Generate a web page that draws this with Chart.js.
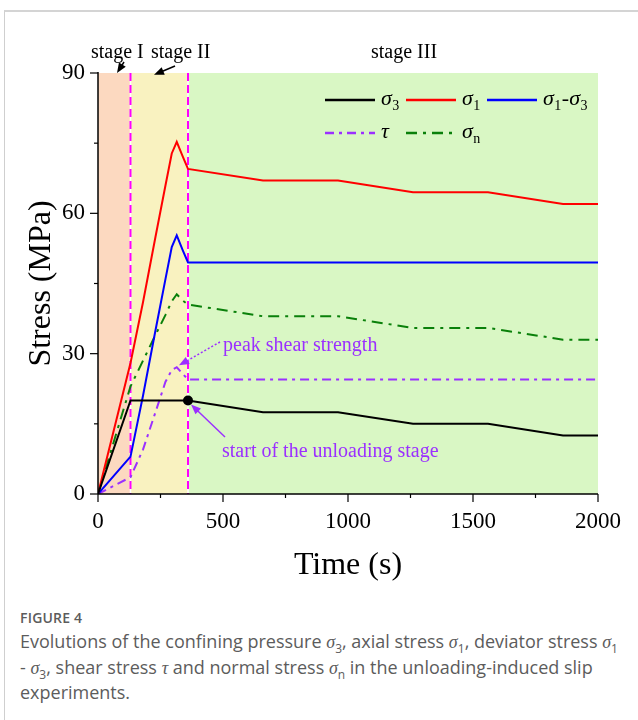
<!DOCTYPE html>
<html lang="en">
<head>
<meta charset="UTF-8">
<title>Figure 4</title>
<script src="https://cdn.jsdelivr.net/npm/chart.js"></script>
<style>
    body {
        margin: 0;
        width: 638px;
        height: 720px;
        overflow: hidden;
        position: relative;
        background: #fff;
        font-family: 'Open Sans', sans-serif;
    }
    .frame {
        position: absolute;
        left: 4px;
        top: 10px;
        width: 700px;
        height: 800px;
        border-left: 1px solid #cfcfcf;
        border-top: 2px solid #d4d4d4;
    }
    #chartBox {
        position: absolute;
        left: 0;
        top: 0;
    }
    .caption {
        position: absolute;
        left: 20px;
        top: 608px;
        color: #5c5c5c;
    }
    .fig {
        font-size: 14px;
        font-weight: 600;
        letter-spacing: 0.2px;
        margin-bottom: 2px;
    }
    .text {
        font-size: 18px;
        line-height: 24.5px;
        white-space: nowrap;
    }
    .text i {
        font-family: 'Liberation Serif', serif;
        font-size: 18px;
    }
    .text sub {
        font-size: 12px;
        line-height: 0;
    }
</style>
</head>
<body>
<div class="frame"></div>
<canvas id="chartBox" width="638" height="600"></canvas>
<div class="caption">
    <div class="fig">FIGURE 4</div>
    <div class="text">Evolutions of the confining pressure <i>σ</i><sub>3</sub>, axial stress <i>σ</i><sub>1</sub>, deviator stress <i>σ</i><sub>1</sub><br>- <i>σ</i><sub>3</sub>, shear stress <i>τ</i> and normal stress <i>σ</i><sub>n</sub> in the unloading-induced slip<br>experiments.</div>
</div>
<script>
// time axis (s) shared by all series
const times   = [0, 130, 180, 230, 270, 295, 315, 340, 360, 660, 960, 1260, 1560, 1860, 2000];
const sigma3  = [0, 20, 20, 20, 20, 20, 20, 20, 20, 17.5, 17.5, 15, 15, 12.5, 12.5];
const sigma1  = [0, 28, 41, 55, 66, 72.8, 75.3, 72, 69.5, 67, 67, 64.5, 64.5, 62, 62];
const deviator = [0, 8, 21, 35, 46, 52.8, 55.3, 52, 49.5, 49.5, 49.5, 49.5, 49.5, 49.5, 49.5];
const tau     = [0, 3.6, 9.5, 17.5, 24, 26.5, 27.1, 25.6, 24.5, 24.5, 24.5, 24.5, 24.5, 24.5, 24.5];
const sigmaN  = [0, 23, 28.5, 34, 38.3, 41.2, 42.7, 41.3, 40.5, 38, 38, 35.5, 35.5, 33, 33];

const stageEdges  = [0, 130, 360, 2000];
const stageColors = ['#fcd9c0', '#f9f2c0', '#d9f7c4'];
const xTicks = [0, 500, 1000, 1500, 2000];
const yTicks = [0, 30, 60, 90];
const unloadStart = 360;

const SERIF = "'Liberation Serif', 'Times New Roman', serif";
const PURPLE = '#9b30ff';

function pts(vals) {
    return times.map((t, i) => ({ x: t, y: vals[i] }));
}

const markIdx = times.indexOf(unloadStart);

const datasets = [
    { label: 'σ3', data: pts(sigma3), borderColor: '#000', borderWidth: 2,
      pointRadius: c => c.dataIndex === markIdx ? 5 : 0, pointBackgroundColor: '#000', pointBorderWidth: 0 },
    { label: 'σ1', data: pts(sigma1), borderColor: '#ff0000', borderWidth: 2, pointRadius: 0 },
    { label: 'σ1-σ3', data: pts(deviator), borderColor: '#0000ff', borderWidth: 2, pointRadius: 0 },
    { label: 'τ', data: pts(tau), borderColor: PURPLE, borderWidth: 2, borderDash: [9, 5, 3, 5], pointRadius: 0 },
    { label: 'σn', data: pts(sigmaN), borderColor: '#0a800a', borderWidth: 2, borderDash: [11, 6, 3, 6], pointRadius: 0 }
];

// legend text pieces: [main, subscript, italic]
const legendParts = [
    [['σ', '3', true]],
    [['σ', '1', true]],
    [['σ', '1', true], ['-', '', false], ['σ', '3', true]],
    [['τ', '', true]],
    [['σ', 'n', true]]
];
const legendSlots = [[0, 0], [1, 0], [2, 0], [0, 1], [1, 1]];

function line(ctx, x1, y1, x2, y2) {
    ctx.beginPath();
    ctx.moveTo(x1, y1);
    ctx.lineTo(x2, y2);
    ctx.stroke();
}

function arrow(ctx, x1, y1, x2, y2, color, dash) {
    const ang = Math.atan2(y2 - y1, x2 - x1);
    const hl = 10, hw = 4;
    ctx.save();
    ctx.strokeStyle = color;
    ctx.fillStyle = color;
    ctx.lineWidth = 1.5;
    ctx.setLineDash(dash || []);
    line(ctx, x1, y1, x2 - Math.cos(ang) * hl * 0.8, y2 - Math.sin(ang) * hl * 0.8);
    ctx.setLineDash([]);
    ctx.beginPath();
    ctx.moveTo(x2, y2);
    ctx.lineTo(x2 - Math.cos(ang) * hl - Math.sin(ang) * hw, y2 - Math.sin(ang) * hl + Math.cos(ang) * hw);
    ctx.lineTo(x2 - Math.cos(ang) * hl + Math.sin(ang) * hw, y2 - Math.sin(ang) * hl - Math.cos(ang) * hw);
    ctx.closePath();
    ctx.fill();
    ctx.restore();
}

function drawParts(ctx, parts, x, y) {
    ctx.textBaseline = 'alphabetic';
    ctx.textAlign = 'left';
    for (const [main, sub, ital] of parts) {
        ctx.font = (ital ? 'italic ' : '') + '22px ' + SERIF;
        ctx.fillText(main, x, y);
        x += ctx.measureText(main).width;
        if (sub) {
            ctx.font = '14px ' + SERIF;
            ctx.fillText(sub, x + 0.5, y + 5);
            x += ctx.measureText(sub).width + 1;
        }
    }
}

const decor = {
    id: 'decor',
    beforeDatasetsDraw(chart) {
        const { ctx, chartArea: a, scales: { x } } = chart;
        ctx.save();
        for (let i = 0; i < stageColors.length; i++) {
            const x0 = x.getPixelForValue(stageEdges[i]);
            const x1 = x.getPixelForValue(stageEdges[i + 1]);
            ctx.fillStyle = stageColors[i];
            ctx.fillRect(x0, a.top, x1 - x0, a.bottom - a.top);
        }
        stageEdges.slice(1, -1).forEach(t => {
            const px = x.getPixelForValue(t);
            ctx.strokeStyle = '#fff';
            ctx.lineWidth = 1.5;
            ctx.setLineDash([]);
            line(ctx, px, a.top, px, a.bottom);
            ctx.strokeStyle = '#ff00ff';
            ctx.lineWidth = 2;
            ctx.setLineDash([8, 4]);
            line(ctx, px, a.top, px, a.bottom);
        });
        ctx.restore();
    },
    afterDraw(chart) {
        const { ctx, chartArea: a, scales: { x, y } } = chart;
        ctx.save();
        // axes + ticks
        ctx.strokeStyle = '#000';
        ctx.lineWidth = 1.5;
        line(ctx, a.left, a.top - 1, a.left, a.bottom);
        line(ctx, a.left, a.bottom, a.right, a.bottom);
        ctx.lineWidth = 1.2;
        xTicks.forEach((v, i) => {
            const px = x.getPixelForValue(v);
            line(ctx, px, a.bottom, px, a.bottom + 8);
            if (i < xTicks.length - 1) {
                const mx = x.getPixelForValue((v + xTicks[i + 1]) / 2);
                line(ctx, mx, a.bottom, mx, a.bottom + 4);
            }
        });
        yTicks.forEach((v, i) => {
            const py = y.getPixelForValue(v);
            line(ctx, a.left - 8, py, a.left, py);
            if (i < yTicks.length - 1) {
                const my = y.getPixelForValue((v + yTicks[i + 1]) / 2);
                line(ctx, a.left - 4, my, a.left, my);
            }
        });

        // legend
        ctx.lineCap = 'butt';
        legendSlots.forEach(([col, row], i) => {
            const ds = chart.data.datasets[i];
            const lx = a.left + 227 + col * 81;
            const ly = a.top + 27 + row * 33;
            ctx.strokeStyle = ds.borderColor;
            ctx.lineWidth = 2.5;
            ctx.setLineDash(ds.borderDash || []);
            line(ctx, lx, ly, lx + 50, ly);
            ctx.setLineDash([]);
            ctx.fillStyle = '#000';
            drawParts(ctx, legendParts[i], lx + 56, ly + 5);
        });

        // stage labels
        ctx.fillStyle = '#000';
        ctx.font = '20px ' + SERIF;
        ctx.textAlign = 'left';
        ctx.textBaseline = 'alphabetic';
        ctx.fillText('stage I', 91, 58);
        ctx.fillText('stage II', 151, 58);
        ctx.fillText('stage III', 371, 58);
        arrow(ctx, 124, 62, x.getPixelForValue(76), y.getPixelForValue(90), '#000');
        arrow(ctx, 175, 66, x.getPixelForValue(224), y.getPixelForValue(89.6), '#000');

        // annotations
        ctx.fillStyle = PURPLE;
        ctx.fillText('peak shear strength', 223, 351);
        ctx.fillText('start of the unloading stage', 222, 457);
        arrow(ctx, 220, 342, x.getPixelForValue(324), y.getPixelForValue(27.5), PURPLE, [2, 2]);
        arrow(ctx, 225, 437, x.getPixelForValue(unloadStart) + 3, y.getPixelForValue(sigma3[markIdx]) + 4, PURPLE);
        ctx.restore();
    }
};

new Chart(document.getElementById('chartBox'), {
    type: 'line',
    data: { datasets: datasets },
    options: {
        responsive: false,
        animation: false,
        layout: { padding: { left: 22, right: 40, top: 73, bottom: 15 } },
        plugins: { legend: { display: false }, tooltip: { enabled: false } },
        scales: {
            x: {
                type: 'linear',
                min: 0,
                max: 2000,
                afterBuildTicks: s => { s.ticks = xTicks.map(v => ({ value: v })); },
                afterFit: s => { s.height = 91; },
                grid: { display: false, drawTicks: false },
                border: { display: false },
                ticks: { padding: 14, color: '#000', maxRotation: 0, autoSkip: false,
                         font: { family: SERIF, size: 23 }, callback: v => String(v) },
                title: { display: true, text: 'Time (s)', color: '#000', padding: 0,
                         font: { family: SERIF, size: 32 } }
            },
            y: {
                min: 0,
                max: 90,
                afterBuildTicks: s => { s.ticks = yTicks.map(v => ({ value: v })); },
                afterFit: s => { s.width = 76; },
                grid: { display: false, drawTicks: false },
                border: { display: false },
                ticks: { padding: 13, color: '#000', font: { family: SERIF, size: 23 },
                         callback: v => String(v) },
                title: { display: true, text: 'Stress (MPa)', color: '#000', padding: 0,
                         font: { family: SERIF, size: 32 } }
            }
        }
    },
    plugins: [decor]
});
</script>
</body>
</html>
